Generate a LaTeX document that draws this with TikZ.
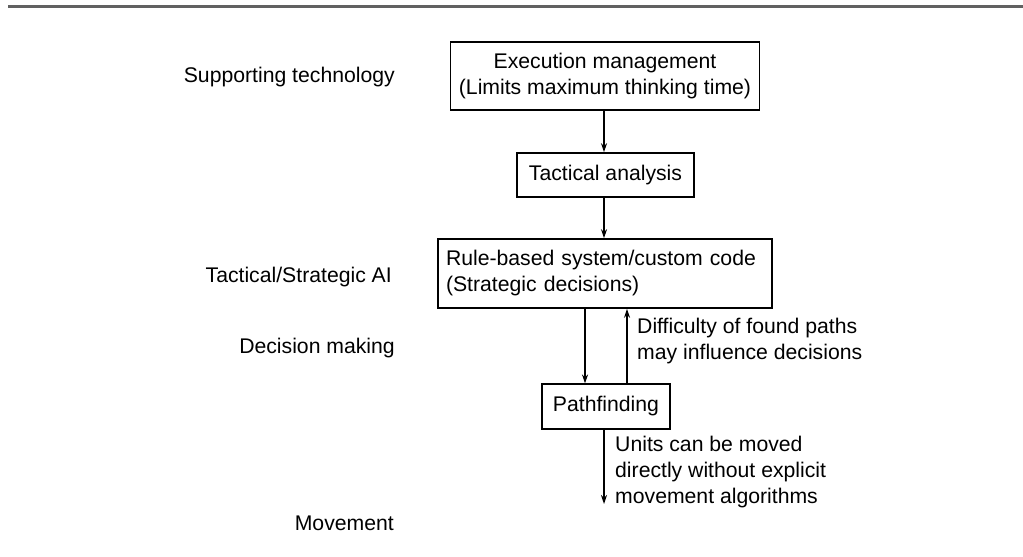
\documentclass[tikz,border=0pt]{standalone}
\usepackage{fontspec}
\setmainfont{Liberation Sans}
\usetikzlibrary{arrows.meta}
\begin{document}
\begin{tikzpicture}[x=1pt,y=-1pt,
  every node/.style={font=\fontsize{21.2}{26}\selectfont},
  box/.style={draw=black,line width=1.6pt,inner sep=0pt,align=center},
  lbl/.style={inner sep=0pt,anchor=east},
  note/.style={inner sep=0pt,anchor=west,align=left},
  conn/.style={line width=1.2pt,-{Stealth[length=9pt,width=6pt]}}]
\useasboundingbox (0,0) rectangle (1023,557);
\draw[line width=2.2pt,draw=black!62] (8,6.5) -- (1023,6.5);
\node[box,minimum width=309pt,minimum height=68pt] (exec) at (605,76)
  {Execution management\\(Limits maximum thinking time)};
\node[box,minimum width=177pt,minimum height=44pt] (tact) at (605.5,175) {Tactical analysis};
\node[box,minimum width=334pt,minimum height=69pt,align=left,text width=318pt,inner xsep=8pt] (rule) at (605,273.5)
  {Rule-based system/custom code\\(Strategic decisions)};
\node[box,minimum width=128pt,minimum height=44.5pt] (path) at (606,406.5) {Pathfinding};
\coordinate (mvend) at (604,504);
\node[lbl] (l1) at (395,77) {Supporting technology};
\node[lbl] (l2) at (392,277) {Tactical/Strategic AI};
\node[lbl] (l3) at (395,348) {Decision making};
\node[lbl] (l4) at (394,523) {Movement};
\node[note] (n1) at (637,341.5) {Difficulty of found paths\\may influence decisions};
\node[note] (n2) at (615,472.5) {Units can be moved\\directly without explicit\\movement algorithms};
\draw[conn] (exec.south -| 604,0) -- (tact.north -| 604,0);
\draw[conn] (tact.south -| 604,0) -- (rule.north -| 604,0);
\draw[conn] (rule.south -| 585,0) -- (path.north -| 585,0);
\draw[conn] (path.north -| 627,0) -- (rule.south -| 627,0);
\draw[conn] (path.south -| 604,0) -- (mvend);
\end{tikzpicture}
\end{document}
